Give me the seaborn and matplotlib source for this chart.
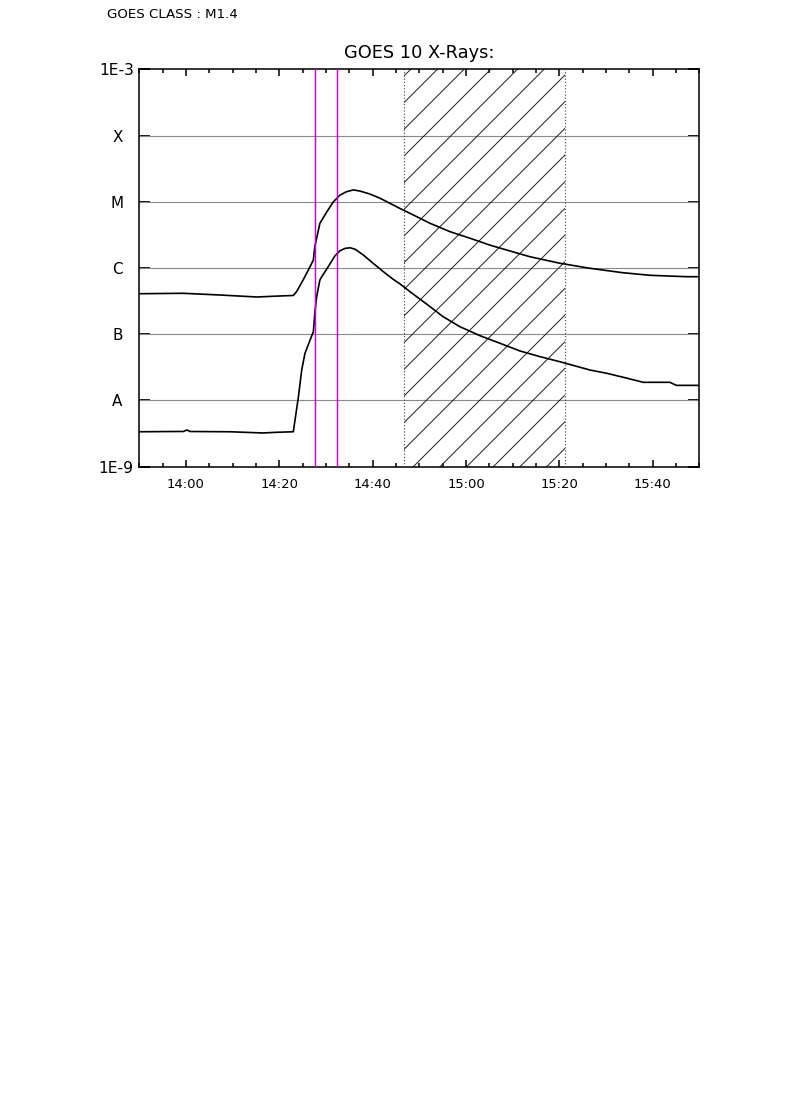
import matplotlib
matplotlib.use("Agg")
import matplotlib.pyplot as plt
import seaborn as sns
import pandas as pd
import numpy as np
from matplotlib.ticker import MultipleLocator, NullLocator, FixedLocator
from matplotlib.transforms import ScaledTranslation

# ---------------- data ----------------
header_text = "GOES CLASS : M1.4"
title_text = "GOES 10 X-Rays:"

# long channel (1-8 A), upper curve
long_times = ["13:50:00", "13:59:24", "14:07:18", "14:15:12", "14:20:06", "14:23:00",
              "14:23:42", "14:24:06", "14:25:06", "14:26:36", "14:27:18", "14:27:36",
              "14:28:42", "14:30:12", "14:31:36", "14:33:00", "14:34:24", "14:35:54",
              "14:37:18", "14:39:24", "14:41:36", "14:43:42", "14:45:48", "14:48:00",
              "14:52:18", "14:56:36", "15:00:54", "15:05:06", "15:09:24", "15:13:42",
              "15:20:06", "15:26:36", "15:33:36", "15:39:24", "15:47:18", "15:49:54"]
long_flux = [4.09e-7, 4.15e-7, 3.91e-7, 3.65e-7, 3.78e-7, 3.85e-7,
             4.39e-7, 4.93e-7, 6.59e-7, 1.05e-6, 1.32e-6, 2.09e-6,
             4.73e-6, 7.08e-6, 1.00e-5, 1.26e-5, 1.42e-5, 1.51e-5,
             1.45e-5, 1.31e-5, 1.13e-5, 9.48e-6, 7.96e-6, 6.70e-6,
             4.73e-6, 3.53e-6, 2.81e-6, 2.22e-6, 1.81e-6, 1.48e-6,
             1.18e-6, 9.89e-7, 8.49e-7, 7.76e-7, 7.39e-7, 7.39e-7]

# short channel (0.5-4 A), lower curve
short_times = ["13:50:00", "13:57:36", "13:59:24", "14:00:12", "14:00:54", "14:09:24",
               "14:16:30", "14:19:06", "14:23:00", "14:24:06", "14:24:48", "14:25:30",
               "14:26:36", "14:27:18", "14:27:36", "14:28:00", "14:28:42", "14:29:06",
               "14:30:30", "14:31:54", "14:33:00", "14:34:06", "14:35:12", "14:36:18",
               "14:38:00", "14:40:06", "14:42:18", "14:44:24", "14:45:54", "14:48:00",
               "14:52:18", "14:55:06", "14:58:42", "15:03:00", "15:07:18", "15:11:36",
               "15:15:54", "15:20:06", "15:26:36", "15:30:12", "15:33:42", "15:38:00",
               "15:43:42", "15:45:06", "15:49:54"]
short_flux = [3.37e-9, 3.40e-9, 3.40e-9, 3.58e-9, 3.40e-9, 3.37e-9,
              3.23e-9, 3.30e-9, 3.37e-9, 1.14e-8, 2.88e-8, 5.15e-8,
              8.18e-8, 1.09e-7, 2.07e-7, 3.68e-7, 6.59e-7, 7.39e-7,
              1.05e-6, 1.52e-6, 1.82e-6, 1.98e-6, 2.02e-6, 1.91e-6,
              1.57e-6, 1.18e-6, 8.79e-7, 6.75e-7, 5.73e-7, 4.39e-7,
              2.61e-7, 1.84e-7, 1.30e-7, 9.51e-8, 7.30e-8, 5.58e-8,
              4.58e-8, 3.85e-8, 2.88e-8, 2.57e-8, 2.24e-8, 1.88e-8,
              1.88e-8, 1.69e-8, 1.69e-8]

x_range = ["13:50:00", "15:50:00"]
x_tick_times = ["14:00:00", "14:20:00", "14:40:00", "15:00:00", "15:20:00", "15:40:00"]
x_tick_labels = ["14:00", "14:20", "14:40", "15:00", "15:20", "15:40"]

y_tick_values = [1e-9, 1e-8, 1e-7, 1e-6, 1e-5, 1e-4, 1e-3]
y_tick_labels = ["1E-9", "A", "B", "C", "M", "X", "1E-3"]
grid_levels = [1e-8, 1e-7, 1e-6, 1e-5, 1e-4]

event_times = ["14:27:42", "14:32:24"]
hatch_span = ["14:46:42", "15:21:12"]


def to_min(ts):
    return np.asarray(pd.to_timedelta(ts).total_seconds(), dtype=float) / 60.0


# ---------------- figure ----------------
DPI = 160
sns.set_theme(style="white")
plt.rcParams["font.family"] = ["DejaVu Sans"]
plt.rcParams["hatch.linewidth"] = 0.45
plt.rcParams["hatch.color"] = "#222222"

fig = plt.figure(figsize=(790 / DPI, 1118 / DPI), dpi=DPI, facecolor="white")
ax = fig.add_axes([139.3 / 790, 1 - 466.7 / 1118, 560.0 / 790, 397.4 / 1118])
ax.set_facecolor("white")

for lv in grid_levels:
    ax.axhline(lv, color="#8a8a8a", lw=0.5, zorder=1)

df_long = pd.DataFrame({"t": to_min(long_times), "flux": long_flux})
df_short = pd.DataFrame({"t": to_min(short_times), "flux": short_flux})
sns.lineplot(data=df_long, x="t", y="flux", ax=ax, color="black", lw=0.75,
             estimator=None, sort=False, zorder=4)
sns.lineplot(data=df_short, x="t", y="flux", ax=ax, color="black", lw=0.75,
             estimator=None, sort=False, zorder=4)

# hatched interval
h0, h1 = to_min(hatch_span)
ax.axvspan(h0, h1, facecolor="none", edgecolor="#222222", hatch="//", lw=0, zorder=2)
for hv in (h0, h1):
    ax.axvline(hv, color="#555555", ls=(0, (1, 1.6)), lw=0.55, zorder=3)

# event lines
for ev in to_min(event_times):
    ax.axvline(ev, color="#d000d0", lw=0.65, zorder=5)

ax.set_yscale("log")
ax.set_ylim(1e-9, 1e-3)
xr = to_min(x_range)
ax.set_xlim(xr[0], xr[1])
ax.set_xlabel("")
ax.set_ylabel("")

ax.xaxis.set_major_locator(FixedLocator(to_min(x_tick_times)))
ax.set_xticklabels(x_tick_labels)
ax.xaxis.set_minor_locator(MultipleLocator(5))
ax.tick_params(axis="x", which="major", direction="in", length=3.3, width=0.7,
               top=True, bottom=True, labelsize=5.9, pad=5, colors="black")
ax.tick_params(axis="x", which="minor", direction="in", length=1.8, width=0.7,
               top=True, bottom=True, colors="black")

ax.yaxis.set_major_locator(FixedLocator(y_tick_values))
ax.yaxis.set_minor_locator(NullLocator())
ax.set_yticklabels([])
ax.tick_params(axis="y", which="major", direction="in", length=5, width=0.8,
               left=True, right=True, colors="black")

ytrans = ax.get_yaxis_transform()
for val, lab in zip(y_tick_values, y_tick_labels):
    if lab[0].isdigit():
        tr = ytrans + ScaledTranslation(-5.5 / DPI, 0, fig.dpi_scale_trans)
        ax.text(0, val, lab, transform=tr, ha="right", va="center_baseline",
                fontsize=7, color="black")
    else:
        tr = ytrans + ScaledTranslation(-22.0 / DPI, 0, fig.dpi_scale_trans)
        ax.text(0, val, lab, transform=tr, ha="center", va="center_baseline",
                fontsize=6.8, color="black")

for sp in ax.spines.values():
    sp.set_visible(True)
    sp.set_color("black")
    sp.set_linewidth(0.7)

ax.set_title(title_text, fontsize=8, pad=5, color="black")
fig.text(106.7 / 790, 1 - 14.7 / 1118, header_text, fontsize=6, ha="left",
         va="center", color="black")

fig.savefig("out.png", dpi=DPI, facecolor="white")
